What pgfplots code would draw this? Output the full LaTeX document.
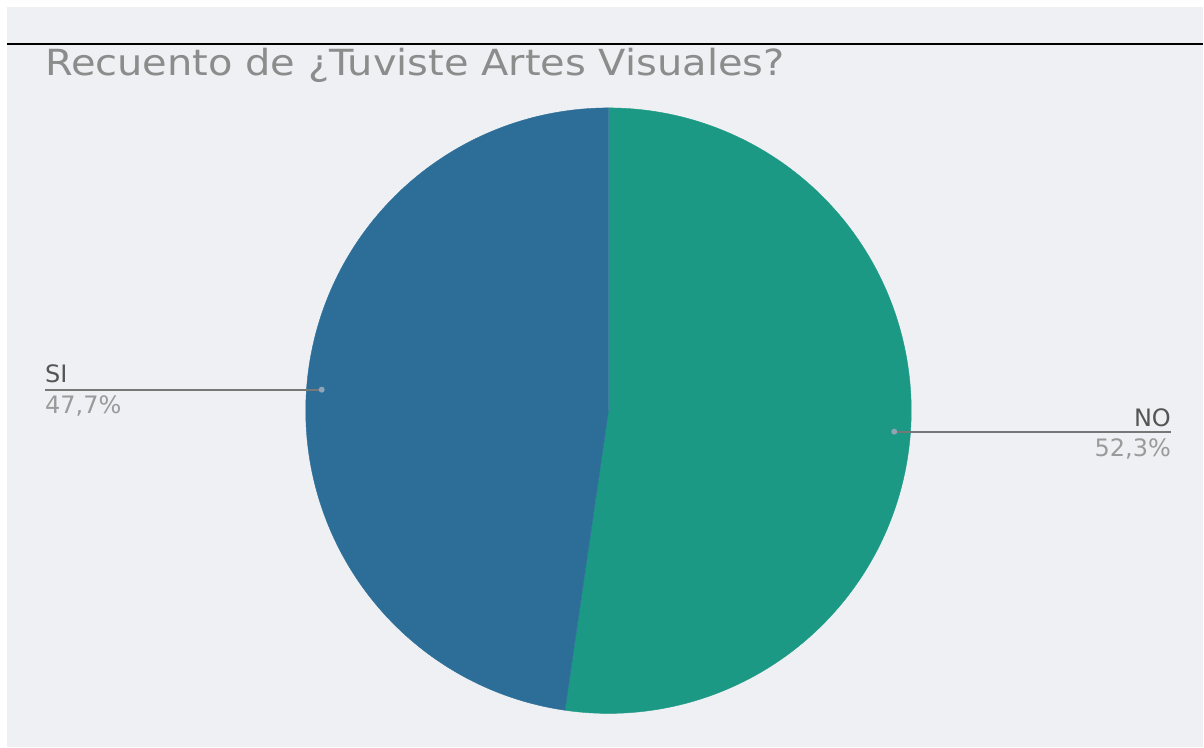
\documentclass[border=0pt]{standalone}
\usepackage{pgfplots}
\usepackage{pgfplotstable}
\pgfplotsset{compat=1.18}
\usepackage{fontspec}
\setmainfont{DejaVu Sans}
\definecolor{bg}{HTML}{EEF0F3}
\definecolor{cNO}{HTML}{1B9985}
\definecolor{cSI}{HTML}{2D6E99}
\definecolor{ttl}{HTML}{8C8C8C}
\definecolor{lname}{HTML}{555555}
\definecolor{lpct}{HTML}{9A9A9A}
\definecolor{lline}{HTML}{777777}
\definecolor{dotc}{HTML}{8FA4B5}
\pgfplotstableread{
label value
NO 52.3
SI 47.7
}\piedata
\pgfplotstablegetelem{0}{value}\of\piedata \let\vNO\pgfplotsretval
\pgfplotstablegetelem{1}{value}\of\piedata \let\vSI\pgfplotsretval
\pgfmathsetmacro\aNO{3.6*\vNO}
\pgfmathsetmacro\aEnd{3.6*(\vNO+\vSI)}
\begin{document}
\begin{tikzpicture}
\begin{axis}[
  scale only axis, width=1204bp, height=747bp,
  xmin=0, xmax=1204, ymin=0, ymax=747, y dir=reverse,
  axis lines=none, clip=false,
]
\fill[white] (axis cs:0,0) rectangle (axis cs:1204,747);
\fill[bg] (axis cs:7,7) rectangle (axis cs:1204,748);
\draw[black, line width=2bp] (axis cs:7,44) -- (axis cs:1204,44);
\node[anchor=base west, text=ttl, inner sep=0pt, font=\fontsize{36bp}{42bp}\selectfont] at (axis cs:45,76) {\scalebox{1.11}[1]{Recuento de ¿Tuviste Artes Visuales?}};
% slices
\addplot[fill=cNO, draw=cNO, line width=0.4bp, domain=0:\aNO, samples=200, variable=t] ({609+303*sin(t)},{411-303*cos(t)}) -- (axis cs:609,411) -- cycle;
\addplot[fill=cSI, draw=cSI, line width=0.4bp, domain=\aNO:\aEnd, samples=200, variable=t] ({609+303*sin(t)},{411-303*cos(t)}) -- (axis cs:609,411) -- cycle;
% labels
\draw[lline, line width=2bp] (axis cs:45,390) -- (axis cs:320,390);
\fill[dotc] (axis cs:322,390) circle (3bp);
\node[anchor=base west, text=lname, inner sep=0pt, font=\fontsize{24bp}{28bp}\selectfont] at (axis cs:45,383) {SI};
\node[anchor=base west, text=lpct, inner sep=0pt, font=\fontsize{24bp}{28bp}\selectfont] at (axis cs:45,414) {47,7\%};
\draw[lline, line width=2bp] (axis cs:895,432) -- (axis cs:1172,432);
\fill[dotc] (axis cs:895,432) circle (3bp);
\node[anchor=base east, text=lname, inner sep=0pt, font=\fontsize{24bp}{28bp}\selectfont] at (axis cs:1172,427) {NO};
\node[anchor=base east, text=lpct, inner sep=0pt, font=\fontsize{24bp}{28bp}\selectfont] at (axis cs:1172,457) {52,3\%};
\end{axis}
\end{tikzpicture}
\end{document}
